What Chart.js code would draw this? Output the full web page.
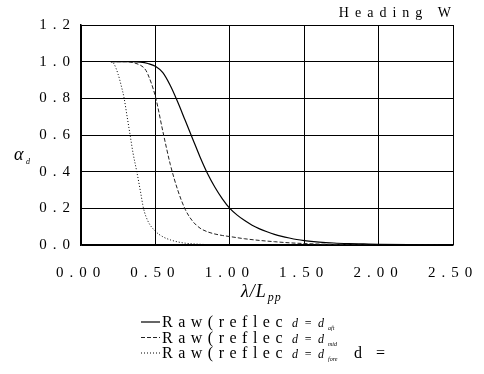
<!DOCTYPE html>
<html>
<head>
<meta charset="utf-8">
<script src="https://cdn.jsdelivr.net/npm/chart.js@4.4.1/dist/chart.umd.min.js"></script>
<style>
  html, body { margin: 0; padding: 0; background: #fff; }
  #wrap { width: 484px; height: 374px; position: relative; }
</style>
</head>
<body>
<div id="wrap"><canvas id="chart" width="484" height="374"></canvas></div>
<script>
// wavelength ratio lambda/Lpp and reflection coefficient per draft position
const aftX = [0.20, 0.25, 0.30, 0.35, 0.40, 0.45, 0.50, 0.55, 0.60, 0.65, 0.70, 0.75, 0.80, 0.85, 0.90, 0.95, 1.00, 1.05, 1.10, 1.15, 1.20, 1.25, 1.30, 1.35, 1.40, 1.45, 1.50, 1.60, 1.70, 1.80, 1.90, 2.00, 2.20, 2.40];
const aftY = [1.000, 1.000, 1.000, 1.000, 0.998, 0.990, 0.975, 0.940, 0.870, 0.780, 0.680, 0.580, 0.480, 0.390, 0.315, 0.252, 0.200, 0.163, 0.133, 0.108, 0.088, 0.072, 0.058, 0.047, 0.038, 0.030, 0.024, 0.016, 0.011, 0.008, 0.006, 0.004, 0.002, 0.001];

const midX = [0.20, 0.25, 0.30, 0.35, 0.40, 0.43, 0.45, 0.50, 0.55, 0.60, 0.65, 0.70, 0.75, 0.80, 0.85, 0.90, 0.95, 1.00, 1.10, 1.20, 1.30, 1.40, 1.50, 1.60, 1.80, 2.00, 2.40];
const midY = [1.000, 1.000, 1.000, 0.995, 0.980, 0.960, 0.930, 0.810, 0.620, 0.440, 0.300, 0.195, 0.130, 0.092, 0.072, 0.060, 0.052, 0.046, 0.034, 0.025, 0.018, 0.012, 0.008, 0.005, 0.002, 0.001, 0.000];

const foreX = [0.20, 0.22, 0.25, 0.27, 0.29, 0.31, 0.33, 0.35, 0.375, 0.40, 0.42, 0.45, 0.50, 0.55, 0.60, 0.65, 0.70, 0.80, 0.90, 1.00];
const foreY = [1.000, 0.990, 0.930, 0.870, 0.800, 0.700, 0.600, 0.500, 0.400, 0.290, 0.200, 0.130, 0.075, 0.045, 0.028, 0.017, 0.010, 0.004, 0.001, 0.000];

const xTicks = [0, 0.5, 1.0, 1.5, 2.0, 2.5];
const yTicks = [0, 0.2, 0.4, 0.6, 0.8, 1.0, 1.2];
const legendSubs = ["aft", "mid", "fore"];

const SERIF = '"Liberation Serif", "DejaVu Serif", serif';
const TICK_SPACING = "6px";

const toPoints = (xs, ys) => xs.map((x, i) => ({ x: x, y: ys[i] }));

// wide letter spacing on the tick labels, like the original
const spacedTicks = {
  id: "spacedTicks",
  beforeLayout(chart) { chart.ctx.letterSpacing = TICK_SPACING; },
  beforeDraw(chart) { chart.ctx.letterSpacing = TICK_SPACING; },
};

// custom text: heading, axis titles and the legend block under the chart
const decorations = {
  id: "decorations",
  afterDraw(chart) {
    const ctx = chart.ctx;
    const area = chart.chartArea;
    ctx.save();
    ctx.fillStyle = "#000";
    ctx.textBaseline = "alphabetic";

    // heading
    ctx.letterSpacing = "6px";
    ctx.font = "14px " + SERIF;
    ctx.textAlign = "right";
    ctx.fillText("Heading W", area.right + 4, 17);

    // y title
    ctx.letterSpacing = "0px";
    ctx.textAlign = "left";
    ctx.font = "italic 18px " + SERIF;
    ctx.fillText("\u03b1", 14, 160);
    ctx.font = "italic 8px " + SERIF;
    ctx.fillText("d", 26, 164);

    // x title
    ctx.letterSpacing = "1px";
    ctx.font = "italic 18px " + SERIF;
    ctx.fillText("\u03bb/L", 241, 297);
    const w = ctx.measureText("\u03bb/L").width;
    ctx.font = "italic 12px " + SERIF;
    ctx.fillText("pp", 241 + w + 1, 301);

    // legend
    chart.data.datasets.forEach((ds, i) => {
      const y = 327 + i * 15.5;
      ctx.save();
      ctx.strokeStyle = ds.borderColor;
      ctx.lineWidth = ds.borderWidth;
      ctx.setLineDash(ds.borderDash || []);
      ctx.beginPath();
      ctx.moveTo(141, y - 5);
      ctx.lineTo(160, y - 5);
      ctx.stroke();
      ctx.restore();

      ctx.letterSpacing = "5.5px";
      ctx.font = "16px " + SERIF;
      ctx.fillText("Raw(reflec", 162, y);
      ctx.letterSpacing = "0px";
      ctx.font = "italic 12px " + SERIF;
      ctx.fillText("d\u2002=\u2002d", 292, y);
      ctx.font = "italic 6px " + SERIF;
      ctx.fillText(legendSubs[i], 328, y + 3);
      if (i === 2) {
        ctx.letterSpacing = "5px";
        ctx.font = "16px " + SERIF;
        ctx.fillText("d =", 354, y);
      }
    });
    ctx.restore();
  },
};

new Chart(document.getElementById("chart").getContext("2d"), {
  type: "line",
  data: {
    datasets: [
      {
        label: "aft",
        data: toPoints(aftX, aftY),
        borderColor: "#000",
        borderWidth: 1.2,
        pointRadius: 0,
        cubicInterpolationMode: "monotone",
        fill: false,
      },
      {
        label: "mid",
        data: toPoints(midX, midY),
        borderColor: "#222",
        borderWidth: 1,
        borderDash: [4, 2],
        pointRadius: 0,
        cubicInterpolationMode: "monotone",
        fill: false,
      },
      {
        label: "fore",
        data: toPoints(foreX, foreY),
        borderColor: "#000",
        borderWidth: 1,
        borderDash: [1, 2],
        pointRadius: 0,
        cubicInterpolationMode: "monotone",
        fill: false,
      },
    ],
  },
  options: {
    responsive: false,
    animation: false,
    layout: { padding: { top: 25, right: 31, left: 0, bottom: 0 } },
    plugins: { legend: { display: false }, tooltip: { enabled: false } },
    scales: {
      x: {
        type: "linear",
        min: 0,
        max: 2.5,
        afterBuildTicks: (s) => { s.ticks = xTicks.map((v) => ({ value: v })); },
        afterFit: (s) => {
          s.height = 374 - 245;
          s.paddingLeft = 0;
          s.paddingRight = 0;
        },
        ticks: {
          color: "#000",
          font: { family: SERIF, size: 15 },
          padding: 19,
          maxRotation: 0,
          autoSkip: false,
          callback: (v) => v.toFixed(2),
        },
        grid: { color: "#000", lineWidth: 1, drawTicks: false },
        border: { color: "#000", width: 1.5 },
      },
      y: {
        min: 0,
        max: 1.2,
        afterBuildTicks: (s) => { s.ticks = yTicks.map((v) => ({ value: v })); },
        afterFit: (s) => {
          s.width = 81;
          s.paddingTop = 0;
          s.paddingBottom = 0;
        },
        ticks: {
          color: "#000",
          font: { family: SERIF, size: 15 },
          padding: 5,
          callback: (v) => v.toFixed(1),
        },
        grid: { color: "#000", lineWidth: 1, drawTicks: false },
        border: { color: "#000", width: 1.5 },
      },
    },
  },
  plugins: [spacedTicks, decorations],
});
</script>
</body>
</html>
